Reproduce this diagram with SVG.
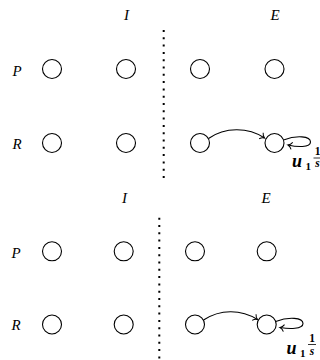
<svg xmlns="http://www.w3.org/2000/svg" width="320" height="360" viewBox="0 0 320 360">
<style>
.n{fill:#fff;stroke:#000;stroke-width:1.1}
.t{font-family:"Liberation Serif","DejaVu Serif","Noto Serif",serif;font-style:italic;font-size:15px;fill:#000;text-anchor:middle}
.b{font-family:"Liberation Serif","DejaVu Serif","Noto Serif",serif;font-style:italic;font-weight:bold;fill:#000}
.r{font-family:"Liberation Serif","DejaVu Serif","Noto Serif",serif;font-weight:bold;fill:#000}
.c{fill:none;stroke:#000;stroke-width:1.1}
.d{fill:none;stroke:#000;stroke-width:2;stroke-dasharray:2 5.3}
</style>
<defs>
<marker id="ah" markerUnits="userSpaceOnUse" markerWidth="10" markerHeight="10" viewBox="-6 -5 8 10" refX="0" refY="0" orient="auto" overflow="visible">
<path d="M-4,-3.6 C-2.8,-1.3 -1,-0.3 0,0 C-1,0.3 -2.8,1.3 -4,3.6" fill="none" stroke="#000" stroke-width="1"/>
</marker>
</defs>
<rect width="320" height="360" fill="#fff"/>
<g id="labels-top">
<text class="t" x="126.5" y="20">I</text>
<text class="t" x="275" y="20">E</text>
<text class="t" x="17" y="76">P</text>
<text class="t" x="17" y="148.5">R</text>
</g>
<g id="labels-bottom">
<text class="t" x="124.5" y="203">I</text>
<text class="t" x="266" y="203">E</text>
<text class="t" x="16" y="258">P</text>
<text class="t" x="16" y="330">R</text>
</g>
<g id="divider-top"><line class="d" x1="163.7" y1="30" x2="163.7" y2="178"/></g>
<g id="divider-bottom"><line class="d" x1="159.3" y1="217.7" x2="159.3" y2="360"/></g>
<g id="t-PI1"><circle class="n" cx="52" cy="69" r="9.5"/></g>
<g id="t-PI2"><circle class="n" cx="126" cy="69" r="9.5"/></g>
<g id="t-PE1"><circle class="n" cx="200" cy="69" r="9.5"/></g>
<g id="t-PE2"><circle class="n" cx="274.5" cy="69" r="9.5"/></g>
<g id="t-RI1"><circle class="n" cx="52" cy="143" r="9.5"/></g>
<g id="t-RI2"><circle class="n" cx="126" cy="143" r="9.5"/></g>
<g id="t-RE1"><circle class="n" cx="200" cy="143" r="9.5"/></g>
<g id="t-RE2"><circle class="n" cx="274.5" cy="143" r="9.5"/></g>
<g id="b-PI1"><circle class="n" cx="52" cy="251.3" r="9.5"/></g>
<g id="b-PI2"><circle class="n" cx="123.7" cy="251.3" r="9.5"/></g>
<g id="b-PE1"><circle class="n" cx="195" cy="251.3" r="9.5"/></g>
<g id="b-PE2"><circle class="n" cx="266.7" cy="251.3" r="9.5"/></g>
<g id="b-RI1"><circle class="n" cx="52" cy="324.5" r="9.5"/></g>
<g id="b-RI2"><circle class="n" cx="123.7" cy="324.5" r="9.5"/></g>
<g id="b-RE1"><circle class="n" cx="195" cy="324.5" r="9.5"/></g>
<g id="b-RE2"><circle class="n" cx="266.7" cy="324.5" r="9.5"/></g>
<g id="connectors">
<path class="c" d="M208.5,138.5 C225,127 248,127 264.5,138" marker-end="url(#ah)"/>
<path class="c" d="M283.5,140 C296.5,135 310.5,136 310.5,142 C310.5,148 296.5,147 288,145" marker-end="url(#ah)"/>
<path class="c" d="M203.5,320 C220,309 241,309 257.5,319.5" marker-end="url(#ah)"/>
<path class="c" d="M275.7,321.5 C288.7,316.5 303,317.5 303,323.5 C303,329.5 289,329 280,327.5" marker-end="url(#ah)"/>
</g>
<g id="label-top">
<text class="b" x="292" y="166.5" font-size="18">u</text>
<text class="r" x="305.5" y="169.5" font-size="11">1</text>
<text class="r" x="317.5" y="155" font-size="11.5" text-anchor="middle">1</text>
<line x1="313.5" y1="158" x2="321.5" y2="158" stroke="#000" stroke-width="0.8"/>
<text class="b" x="317.5" y="167" font-size="11.5" text-anchor="middle">s</text>
</g>
<g id="label-bottom">
<text class="b" x="286.5" y="354" font-size="18">u</text>
<text class="r" x="300" y="357" font-size="11">1</text>
<text class="r" x="312" y="341.5" font-size="11.5" text-anchor="middle">1</text>
<line x1="308" y1="344.5" x2="316" y2="344.5" stroke="#000" stroke-width="0.8"/>
<text class="b" x="312" y="354.5" font-size="11.5" text-anchor="middle">s</text>
</g>
</svg>
